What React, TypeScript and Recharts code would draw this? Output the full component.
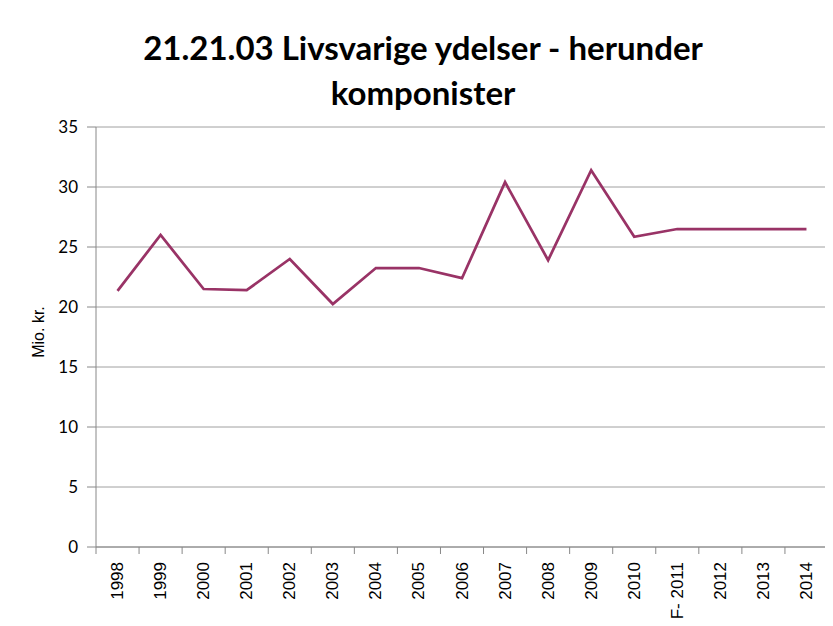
import React from 'react';
import { LineChart, Line, XAxis, YAxis, CartesianGrid } from 'recharts';

const years = ['1998', '1999', '2000', '2001', '2002', '2003', '2004', '2005', '2006', '2007', '2008', '2009', '2010', 'F- 2011', '2012', '2013', '2014'];
const values = [21.35, 26.0, 21.5, 21.4, 24.0, 20.25, 23.25, 23.25, 22.4, 30.4, 23.9, 31.4, 25.85, 26.5, 26.5, 26.5, 26.5];
const yTicks = [0, 5, 10, 15, 20, 25, 30, 35];

const data = years.map((year, i) => ({ year, value: values[i] }));

const W = 833;
const H = 626;
const X_H = 60;
const M = { top: 127, right: 5, bottom: 79 - X_H, left: 36 };
const Y_W = 60;
const PLOT_LEFT = M.left + Y_W;
const PLOT_RIGHT = W - M.right;
const PLOT_BOTTOM = H - M.bottom - X_H;
const BAND = (PLOT_RIGHT - PLOT_LEFT) / years.length;

const XTick = (props: any) => {
  const { x, payload, index } = props;
  const last = index === years.length - 1;
  return (
    <g>
      <line x1={x - BAND / 2} x2={x - BAND / 2} y1={PLOT_BOTTOM} y2={PLOT_BOTTOM + 7} stroke="#888" strokeWidth={1} />
      {last && (
        <line x1={x + BAND / 2} x2={x + BAND / 2} y1={PLOT_BOTTOM} y2={PLOT_BOTTOM + 7} stroke="#888" strokeWidth={1} />
      )}
      <text
        x={0}
        y={0}
        transform={`translate(${x},${PLOT_BOTTOM + 15}) rotate(-90)`}
        textAnchor="end"
        dominantBaseline="central"
        fontFamily="'Liberation Sans', Arial, sans-serif"
        fontSize={17}
        fill="#000"
      >
        {payload.value}
      </text>
    </g>
  );
};

const YLabel = () => (
  <g>
    <line x1={7} y1={6} x2={W} y2={6} stroke="#8f8f8f" strokeWidth={2} />
    <line x1={7} y1={6} x2={7} y2={H} stroke="#8f8f8f" strokeWidth={2} />
    <text
      x={0}
      y={0}
      transform={`translate(38,${(M.top + PLOT_BOTTOM) / 2 - 5}) rotate(-90)`}
      textAnchor="middle"
      dominantBaseline="central"
      fontFamily="'Liberation Sans', Arial, sans-serif"
      fontSize={16}
      fill="#000"
    >
      Mio. kr.
    </text>
  </g>
);

export default function App() {
  return (
    <div style={{ position: 'relative', width: W, height: H, marginLeft: -8, marginTop: -8, overflow: 'hidden', background: '#fff' }}>
      <div
        style={{
          position: 'absolute',
          left: 23,
          top: 25,
          width: 800,
          textAlign: 'center',
          fontFamily: 'Lato, sans-serif',
          fontWeight: 700,
          fontSize: 33,
          lineHeight: '45px',
          color: '#000',
        }}
      >
        21.21.03 Livsvarige ydelser - herunder
        <br />
        komponister
      </div>
      <div style={{ position: 'absolute', left: 0, top: 0 }}>
        <LineChart width={W} height={H} data={data} margin={M}>
          <CartesianGrid vertical={false} stroke="#a0a0a0" strokeWidth={1} />
          <XAxis
            dataKey="year"
            scale="band"
            interval={0}
            tickLine={false}
            axisLine={{ stroke: '#888', strokeWidth: 1 }}
            tick={<XTick />}
            height={X_H}
          />
          <YAxis
            domain={[0, 35]}
            ticks={yTicks}
            width={Y_W}
            tickSize={9}
            tickMargin={9}
            tickLine={{ stroke: '#888' }}
            axisLine={{ stroke: '#888', strokeWidth: 1 }}
            tick={{ fontFamily: 'Lato, sans-serif', fontSize: 17, fill: '#000' }}
            label={<YLabel />}
          />
          <Line
            type="linear"
            dataKey="value"
            stroke="#993366"
            strokeWidth={2.75}
            dot={false}
            isAnimationActive={false}
          />
        </LineChart>
      </div>
    </div>
  );
}
